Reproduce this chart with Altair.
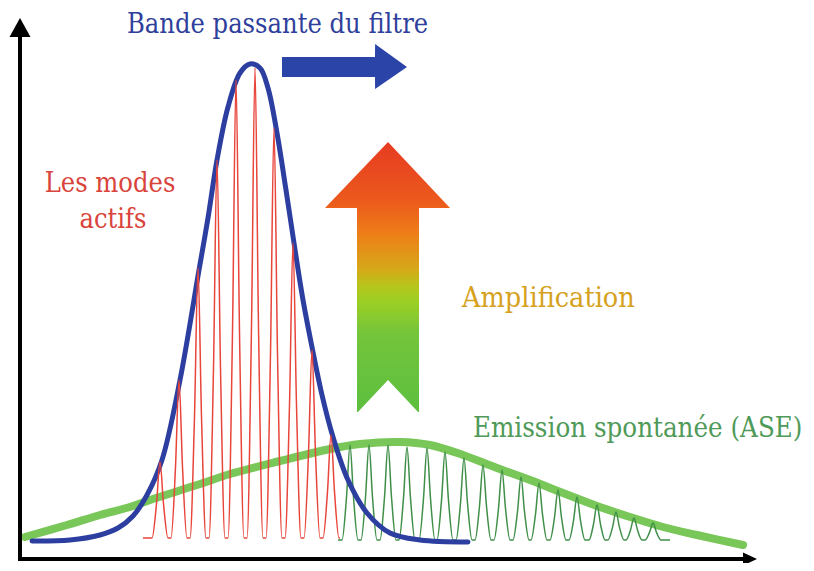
import altair as alt
import pandas as pd

# ---------------- data (x = wavelength position, v = intensity) ----------------
blue_x = [32, 70, 100, 118, 133, 147, 162, 180, 199, 208, 217, 228, 240, 250, 260,
          268, 277, 286, 294, 303, 312, 322, 333, 348, 367, 390, 420, 468]
blue_v = [22, 23, 28, 35, 47, 68, 103, 183, 293, 345, 403, 456, 490, 499, 495,
          475, 430, 373, 320, 263, 216, 168, 126, 83, 50, 30, 23, 21]

ase_x = [25, 67, 100, 130, 150, 200, 230, 280, 330, 360, 400, 430, 463, 497, 530,
         563, 597, 630, 663, 697, 743]
ase_v = [26, 38, 48, 56, 63, 79, 89, 102, 114, 119, 121, 118, 108, 95, 83,
         70, 57, 46, 36, 28, 18]

red_centers = [160, 179, 198, 217, 236, 255, 274, 293, 312, 331]
red_peaks = [101, 183, 295, 403, 483, 495, 435, 320, 213, 128]
red_base = 25

green_centers = [350, 369, 388, 407, 427, 445, 464, 483, 502, 521, 539, 558,
                 577, 597, 616, 634, 653]
green_peaks = [118, 118, 118, 116, 115, 111, 105, 98, 93, 86, 80, 73, 66, 58,
               51, 45, 40]
green_base = 23

# mode line profile (offset from centre, fraction of peak height)
profile_off = [-8, -3.5, 0, 3.5, 8]
profile_frac = [0, 0.45, 1, 0.45, 0]

# gradient arrow (Amplification) outline, key = intensity
amp_v = [151, 354.9, 355, 421]
amp_x = [357, 357, 325, 388]
amp_x2 = [419, 419, 450, 388]
notch_v = [150, 183]
notch_x = [357, 388]
notch_x2 = [419, 388]

# filter shift arrow outline, key = position
shift_x = [282, 375, 375.1, 407]
shift_v = [506, 506, 519, 496]
shift_v2 = [486, 486, 474, 496]

# axes arrows
yaxis_x, yaxis_v0, yaxis_v1 = 20, 2, 528
yhead_v = [526, 545]
yhead_x = [9.5, 20]
yhead_x2 = [30.5, 20]
xaxis_v, xaxis_x0, xaxis_x1 = 4, 18, 745
xhead_x = [743, 757]
xhead_v = [-2.5, 4]
xhead_v2 = [10.5, 4]

labels = ["Bande passante du filtre", "Amplification", "Emission spontanée (ASE)",
          "Les modes", "actifs"]
labels_x = [127, 462, 473, 110, 113]
labels_v = [530, 256, 126, 371, 335]
labels_col = ["#2f3f9c", "#d6a21e", "#4f9a58", "#d9443c", "#d9443c"]
labels_size = [27, 28.5, 27.4, 27, 27]
labels_align = ["left", "left", "left", "center", "center"]

FONT = "DejaVu Serif Condensed"


def mode_table(centers, peaks, base, start, end):
    xs_, vs_ = [start], [base]
    for c, p in zip(centers, peaks):
        for off, fr in zip(profile_off, profile_frac):
            xs_.append(c + off)
            vs_.append(base + fr * (p - base))
    xs_.append(end)
    vs_.append(base)
    return pd.DataFrame({"x": xs_, "v": vs_})


xs = alt.Scale(domain=[8, 806], nice=False, zero=False)
ys = alt.Scale(domain=[0, 555], nice=False, zero=False)


def X(f="x"):
    return alt.X(f, type="quantitative", scale=xs, axis=None)


def Y(f="v"):
    return alt.Y(f, type="quantitative", scale=ys, axis=None)


ase = alt.Chart(pd.DataFrame({"x": ase_x, "v": ase_v})).mark_line(
    color="#6cc24a", strokeWidth=8, interpolate="catmull-rom", strokeCap="round", opacity=0.92
).encode(x=X(), y=Y())

green_modes = alt.Chart(mode_table(green_centers, green_peaks, green_base, 338, 670)).mark_line(
    color="#3f8f48", strokeWidth=1.5, interpolate="monotone"
).encode(x=X(), y=Y())

blue = alt.Chart(pd.DataFrame({"x": blue_x, "v": blue_v})).mark_line(
    color="#2c3e9f", strokeWidth=5, interpolate="catmull-rom", strokeCap="round"
).encode(x=X(), y=Y())

red_modes = alt.Chart(mode_table(red_centers, red_peaks, red_base, 143, 340)).mark_line(
    color="#e8453b", strokeWidth=1.5, interpolate="monotone"
).encode(x=X(), y=Y())

grad = alt.Gradient(
    gradient="linear",
    stops=[
        alt.GradientStop(offset=0.0, color="#e63b22"),
        alt.GradientStop(offset=0.22, color="#ec5a1c"),
        alt.GradientStop(offset=0.34, color="#ee7e18"),
        alt.GradientStop(offset=0.47, color="#d6a818"),
        alt.GradientStop(offset=0.53, color="#b8c41a"),
        alt.GradientStop(offset=0.59, color="#9ccf24"),
        alt.GradientStop(offset=0.71, color="#74c53a"),
        alt.GradientStop(offset=1.0, color="#5cbf40"),
    ],
    x1=0, x2=0, y1=0, y2=1,
)

amp_arrow = alt.Chart(pd.DataFrame({"v": amp_v, "x": amp_x, "x2": amp_x2})).mark_area(
    orient="horizontal", color=grad
).encode(y=Y(), x=X(), x2="x2:Q")

notch = alt.Chart(pd.DataFrame({"v": notch_v, "x": notch_x, "x2": notch_x2})).mark_area(
    orient="horizontal", color="white"
).encode(y=Y(), x=X(), x2="x2:Q")

shift_arrow = alt.Chart(pd.DataFrame({"x": shift_x, "v": shift_v, "v2": shift_v2})).mark_area(
    orient="vertical", color="#2b44a8"
).encode(x=X(), y=Y(), y2="v2:Q")

yaxis = alt.Chart(pd.DataFrame({"x": [yaxis_x], "v": [yaxis_v0], "v2": [yaxis_v1]})).mark_rule(
    color="black", strokeWidth=4
).encode(x=X(), y=Y(), y2="v2:Q")

yhead = alt.Chart(pd.DataFrame({"v": yhead_v, "x": yhead_x, "x2": yhead_x2})).mark_area(
    orient="horizontal", color="black"
).encode(y=Y(), x=X(), x2="x2:Q")

xaxis = alt.Chart(pd.DataFrame({"x": [xaxis_x0], "x2": [xaxis_x1], "v": [xaxis_v]})).mark_rule(
    color="black", strokeWidth=4
).encode(x=X(), x2="x2:Q", y=Y())

xhead = alt.Chart(pd.DataFrame({"x": xhead_x, "v": xhead_v, "v2": xhead_v2})).mark_area(
    orient="vertical", color="black"
).encode(x=X(), y=Y(), y2="v2:Q")

text_layers = []
for t, x, v, c, s, a in zip(labels, labels_x, labels_v, labels_col, labels_size, labels_align):
    text_layers.append(
        alt.Chart(pd.DataFrame({"t": [t], "x": [x], "v": [v]})).mark_text(
            align=a, baseline="alphabetic", font=FONT, fontSize=s, color=c
        ).encode(x=X(), y=Y(), text="t:N")
    )

chart = alt.layer(
    ase, green_modes, blue, red_modes, amp_arrow, notch, shift_arrow,
    yaxis, yhead, xaxis, xhead, *text_layers
).properties(
    width=798, height=555, autosize=alt.AutoSizeParams(type="none"), padding=0,
    background="white"
).configure_view(strokeWidth=0)

chart.save("out.html", embed_options={"renderer": "svg", "actions": False})
